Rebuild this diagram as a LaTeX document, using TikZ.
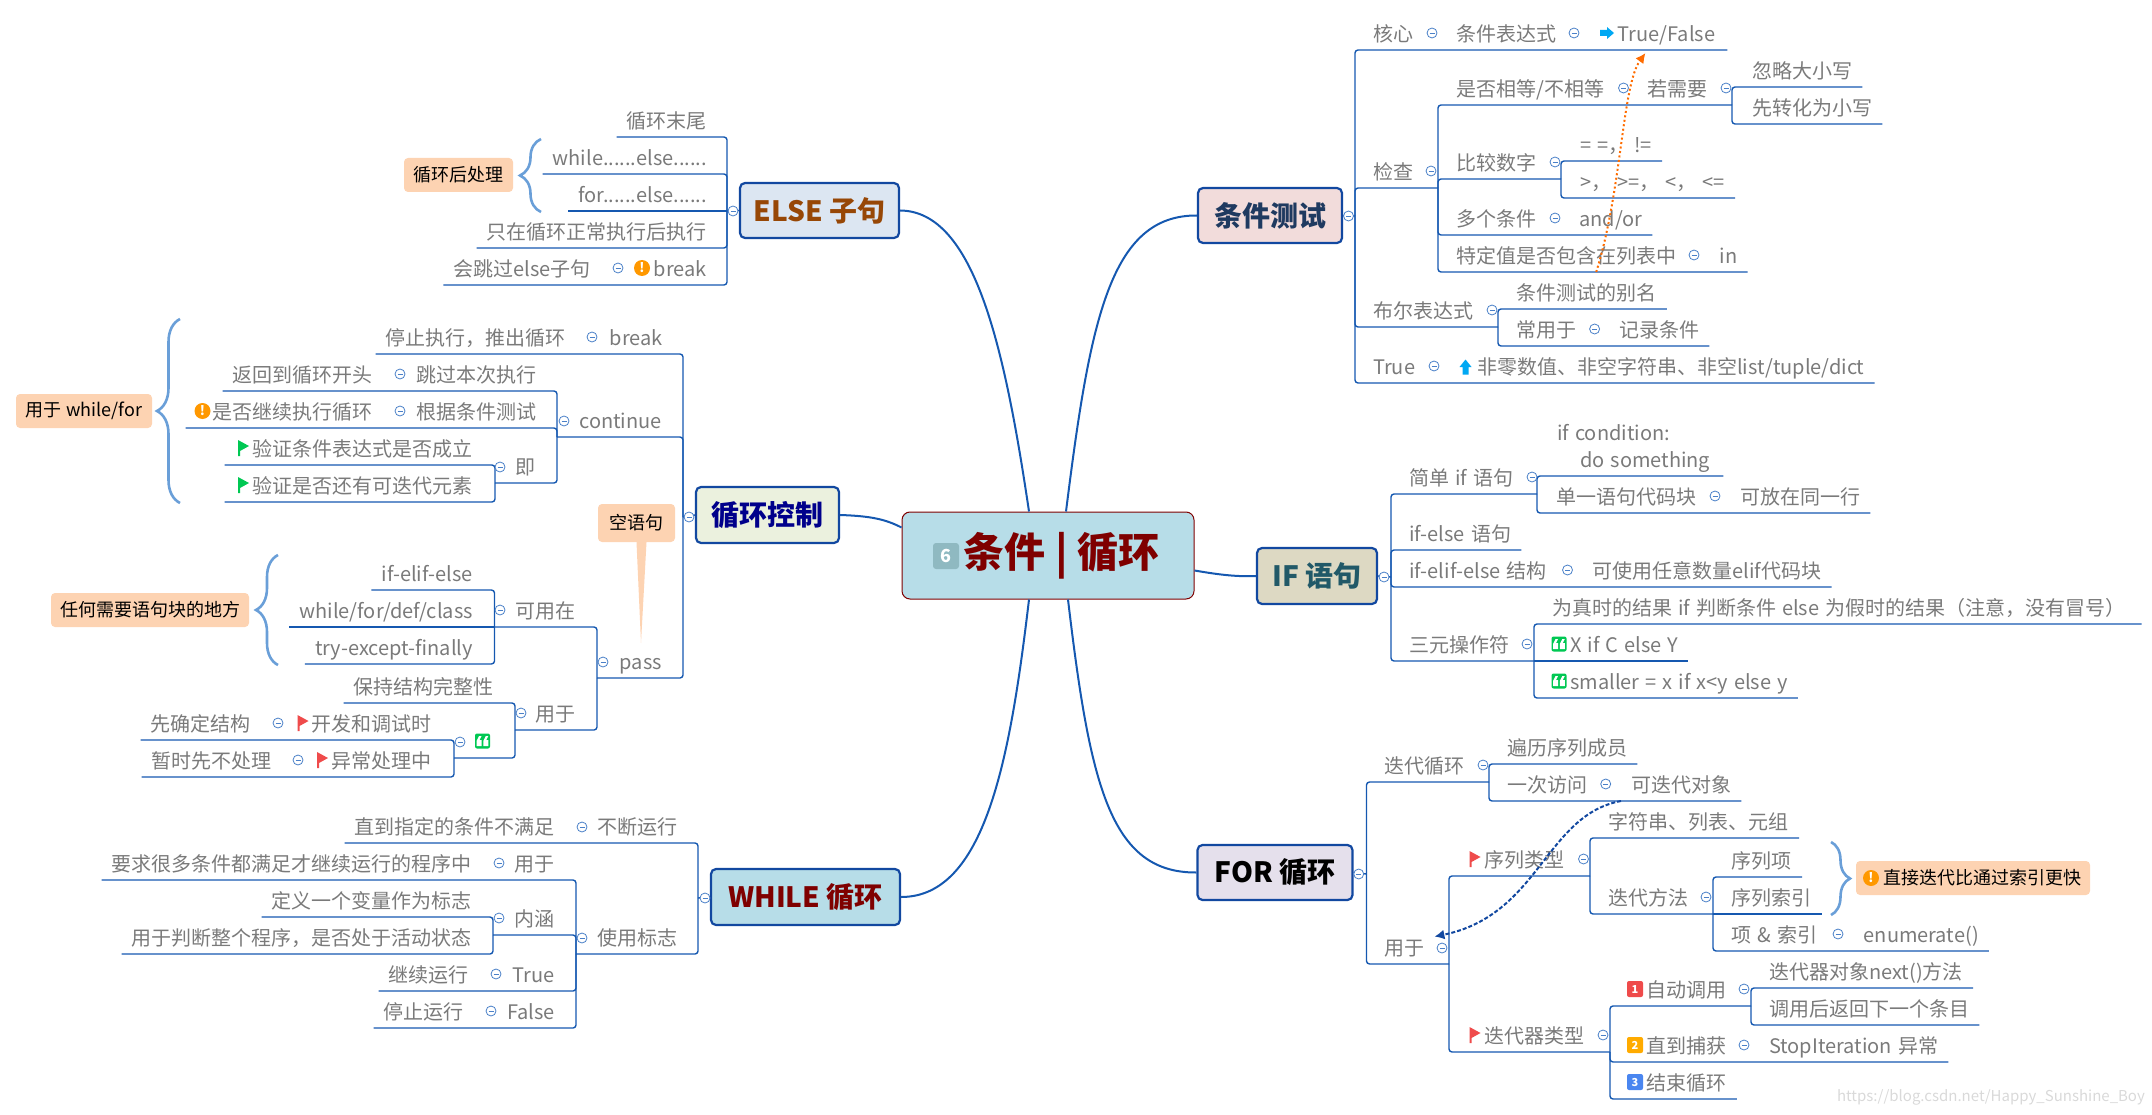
\documentclass[tikz,border=0pt]{standalone}
\usepackage{fontspec}
\setmainfont{Noto Sans CJK SC}
\usetikzlibrary{arrows.meta, positioning, decorations.pathreplacing}
\definecolor{linkblue}{HTML}{1558B0}
\definecolor{boxblue}{HTML}{1248A0}
\definecolor{foldblue}{HTML}{4A80C8}
\definecolor{textgray}{HTML}{7A7A7A}
\definecolor{notefill}{HTML}{FDD3B2}
\definecolor{bracecol}{HTML}{6A9FD8}
\definecolor{rootfill}{HTML}{B7DDE8}
\definecolor{rootred}{HTML}{7F0000}
\definecolor{badgefill}{HTML}{8FB9C1}
\definecolor{flagred}{HTML}{EF4B4B}
\definecolor{flaggreen}{HTML}{00C853}
\definecolor{warnorange}{HTML}{FF9800}
\definecolor{arrowcyan}{HTML}{00A8F3}
\definecolor{elsefill}{HTML}{DCE6F2}
\definecolor{elsetext}{HTML}{974706}
\definecolor{ctrlfill}{HTML}{EBF1DE}
\definecolor{ctrltext}{HTML}{00008B}
\definecolor{condfill}{HTML}{F2DCDB}
\definecolor{condtext}{HTML}{1F3A60}
\definecolor{iffill}{HTML}{DDD9C3}
\definecolor{iftext}{HTML}{215968}
\definecolor{forfill}{HTML}{E5E0EC}
\definecolor{tagorange}{HTML}{FFAB00}
\definecolor{tagblue}{HTML}{4A86F0}
\newcommand{\topicfont}{\fontsize{20}{27}\selectfont\spaceskip=6pt\relax}
\tikzset{
    topic/.style={inner xsep=10pt, inner ysep=0pt, minimum height=34pt, text height=18pt, text depth=1pt, text=textgray, font=\topicfont},
    topicl/.style={topic, anchor=south east},
    topicr/.style={topic, anchor=south west},
    link/.style={line width=1.4pt, linkblue, rounded corners=3pt},
    trunk/.style={line width=2pt, linkblue},
    mainbox/.style={draw=boxblue, line width=2.2pt, rounded corners=5pt, inner sep=0pt, font=\fontsize{28}{30}\selectfont\bfseries},
    note/.style={fill=notefill, rounded corners=4pt, inner sep=0pt, text=black, font=\fontsize{18}{20}\selectfont},
    bracket/.style={bracecol, line width=2.6pt, decorate, decoration={brace, amplitude=#1}},
    fold/.style={circle, draw=foldblue, fill=white, line width=.8pt, inner sep=0pt, minimum size=10pt, path picture={\draw[foldblue, line width=.8pt] ([xshift=-2.5pt]path picture bounding box.center) -- ([xshift=2.5pt]path picture bounding box.center);}},
    warnmark/.style={circle, fill=warnorange, inner sep=0pt, minimum size=16pt, text=white, font=\fontsize{13}{13}\selectfont\bfseries},
    numtag/.style={rounded corners=2pt, inner sep=0pt, minimum size=16pt, text=white, font=\fontsize{11}{11}\selectfont\bfseries},
    pics/flagicon/.style={code={\fill[#1] (-5.5,-8) -- (5.5,-2) -- (-3.5,3) -- (-3.5,8) -- (-5.5,8) -- cycle;}},
    pics/arrowright/.style={code={\fill[arrowcyan] (-7,-3) -- (0,-3) -- (0,-6) -- (7,0) -- (0,6) -- (0,3) -- (-7,3) -- cycle;}},
    pics/arrowup/.style={code={\fill[arrowcyan] (-3,7.5) -- (-3,0) -- (-6,0) -- (0,-7.5) -- (6,0) -- (3,0) -- (3,7.5) -- cycle;}},
    pics/quoteicon/.style={code={\fill[flaggreen, rounded corners=2pt] (-7.5,-7.5) rectangle (7.5,7.5);
        \foreach \s in {-6,0.8} \fill[white] (\s,5) -- (\s,0) -- (\s+2.5,-5) -- (\s+5,-5) -- (\s+3,-1) -- (\s+5,-1) -- (\s+5,5) -- cycle;}},
}
\begin{document}
\begin{tikzpicture}[x=1pt, y=-1pt]
    \useasboundingbox (0,0) rectangle (2152,1115);

    \node[draw=rootred, fill=rootfill, line width=1pt, rounded corners=8pt, minimum width=292pt, minimum height=87pt, inner sep=0pt, text=rootred, font=\fontsize{41}{43}\selectfont\bfseries] (root) at (1048,555.5) {\hspace*{27pt}条件 | 循环};
    \node[fill=badgefill, rounded corners=3pt, minimum size=26pt, inner sep=0pt, text=white, font=\fontsize{18}{18}\selectfont\bfseries] (badgesix) at (946,556) {6};

    \node[mainbox, fill=elsefill, text=elsetext, minimum width=159pt, minimum height=55pt] (elsenode) at (819.5,210.5) {ELSE 子句};
    \node[mainbox, fill=ctrlfill, text=ctrltext, minimum width=143pt, minimum height=56pt] (ctrlnode) at (767.5,515) {循环控制};
    \node[mainbox, fill=rootfill, text=rootred, minimum width=189pt, minimum height=56pt] (whilenode) at (805.5,897) {WHILE 循环};
    \node[mainbox, fill=condfill, text=condtext, minimum width=144pt, minimum height=55pt] (condnode) at (1270,215.5) {条件测试};
    \node[mainbox, fill=iffill, text=iftext, minimum width=120pt, minimum height=56pt] (ifnode) at (1317,576) {IF 语句};
    \node[mainbox, fill=forfill, text=black, minimum width=155pt, minimum height=55pt] (fornode) at (1275,872.5) {FOR 循环};

    \draw[trunk] ([xshift=18pt]root.north) .. controls (1090,320) and (1110,215) .. (condnode.west);
    \draw[trunk] ([xshift=-19pt]root.north) .. controls (1005,350) and (975,211) .. (elsenode.east);
    \draw[trunk] ([yshift=28pt]root.west) .. controls (885,519) and (870,516) .. (ctrlnode.east);
    \draw[trunk] ([yshift=-15pt]root.east) .. controls (1215,574) and (1235,577) .. (ifnode.west);
    \draw[trunk] ([xshift=-19pt]root.south) .. controls (1010,760) and (985,897) .. (whilenode.east);
    \draw[trunk] ([xshift=20pt]root.south) .. controls (1090,785) and (1110,873) .. (fornode.west);

    \coordinate (elsebus) at (727,211);
    \node[topicl] (tailn) at (717,137) {循环末尾};
    \node[topicl] (whileelse) at (717,174) {while......else......};
    \node[topicl] (forelse) at (717,211) {for......else......};
    \node[topicl] (onlyok) at (717,248) {只在循环正常执行后执行};
    \node[topicl] (skipelse) at (601,285) {会跳过else子句};
    \node[topicl] (breakelse) at (717,285) {break};
    \node[warnmark] (warnelse) at (642,268) {!};
    \draw[link] (tailn.south west) -| (elsebus);
    \draw[link] (whileelse.south west) -| (elsebus);
    \draw[link] (forelse.south west) -- (elsebus);
    \draw[link] (onlyok.south west) -| (elsebus);
    \draw[link] (skipelse.south west) -- (breakelse.south east) -| (elsebus);
    \draw[link] (elsebus) -- (elsenode.west);
    \node[note, minimum width=109pt, minimum height=34pt] (elsenote) at (458.5,175) {循环后处理};
    \coordinate (elsetop) at (541,139);
    \coordinate (elsebot) at (541,212);
    \draw[bracket=21pt] (elsebot) -- (elsetop);

    \coordinate (ctrlbus) at (683,517);
    \coordinate (contbus) at (557,437);
    \coordinate (jibus) at (495,483);
    \coordinate (passbus) at (597,678);
    \coordinate (canbus) at (494.5,627);
    \coordinate (usebus) at (515,730);
    \coordinate (quotebus) at (454,758);
    \node[topicl] (stopn) at (576,354) {停止执行，推出循环};
    \node[topicl] (breakn) at (673,354) {break};
    \node[topicl] (contn) at (672,437) {continue};
    \node[topicl] (backn) at (383,391) {返回到循环开头};
    \node[topicl] (skipn) at (547,391) {跳过本次执行};
    \node[topicl] (whethern) at (383,428) {是否继续执行循环};
    \node[topicl] (bytest) at (547,428) {根据条件测试};
    \node[warnmark] (warnwhether) at (202.5,411) {!};
    \node[topicl] (jin) at (546,483) {即};
    \node[topicl] (verifya) at (483,465) {验证条件表达式是否成立};
    \node[topicl] (verifyb) at (483,502) {验证是否还有可迭代元素};
    \pic at (243.5,448) {flagicon=flaggreen};
    \pic at (243.5,485) {flagicon=flaggreen};
    \draw[link] (stopn.south west) -- (breakn.south east) -| (ctrlbus);
    \draw[link] (contbus) -- (contn.south east) -| (ctrlbus);
    \draw[link] (backn.south west) -- (skipn.south east) -| (contbus);
    \draw[link] ([xshift=-17pt]whethern.south west) -- (bytest.south east) -| (contbus);
    \draw[link] (jibus) -- (jin.south east) -| (contbus);
    \draw[link] ([xshift=-18pt]verifya.south west) -| (jibus);
    \draw[link] ([xshift=-18pt]verifyb.south west) -| (jibus);
    \draw[link] (ctrlbus) -- (ctrlnode.west);
    \node[note, minimum width=136pt, minimum height=34pt] (fornote) at (84,411) {用于 while/for};
    \coordinate (fortop) at (180,319);
    \coordinate (forbot) at (180,503);
    \draw[bracket=23pt] (forbot) -- (fortop);

    \node[topicl] (passn) at (672,678) {pass};
    \node[topicl] (canuse) at (586,627) {可用在};
    \node[topicl] (ifelif) at (483,590) {if-elif-else};
    \node[topicl] (whilefor) at (483,627) {while/for/def/class};
    \node[topicl] (tryexc) at (483,664) {try-except-finally};
    \node[topicl] (usen) at (586,730) {用于};
    \node[topicl] (keepn) at (504,703) {保持结构完整性};
    \pic at (482.5,741) {quoteicon};
    \node[topicl] (firstn) at (261,740) {先确定结构};
    \node[topicl] (devn) at (442,740) {开发和调试时};
    \node[topicl] (laterfix) at (282,777) {暂时先不处理};
    \node[topicl] (excn) at (442,777) {异常处理中};
    \pic at (303,723) {flagicon=flagred};
    \pic at (322.5,760) {flagicon=flagred};
    \draw[link] (passbus) -- (passn.south east) -| (ctrlbus);
    \draw[link] (canbus) -- (canuse.south east) -| (passbus);
    \draw[link] (ifelif.south west) -| (canbus);
    \draw[link] (whilefor.south west) -- (canbus);
    \draw[link] (tryexc.south west) -| (canbus);
    \draw[link] (usebus) -- (usen.south east) -| (passbus);
    \draw[link] (keepn.south west) -| (usebus);
    \draw[link] (quotebus) -| (usebus);
    \draw[link] (firstn.south west) -- (devn.south east) -| (quotebus);
    \draw[link] (laterfix.south west) -- (excn.south east) -| (quotebus);
    \node[note, minimum width=198pt, minimum height=34pt] (anynote) at (150,610) {任何需要语句块的地方};
    \coordinate (anytop) at (278,555);
    \coordinate (anybot) at (278,665);
    \draw[bracket=22pt] (anybot) -- (anytop);
    \node[note, minimum width=77pt, minimum height=38pt] (emptynote) at (636.5,523) {空语句};
    \coordinate (emptytip) at (641,643);
    \fill[notefill] (emptynote.south) -- (emptytip) -- ([xshift=10pt]emptynote.south) -- cycle;

    \coordinate (whilebus) at (698,898);
    \coordinate (flagbus) at (576,954);
    \coordinate (innerbus) at (493,935);
    \node[topicl] (untiln) at (565,843) {直到指定的条件不满足};
    \node[topicl] (keeprun) at (688,843) {不断运行};
    \node[topicl] (useflag) at (688,954) {使用标志};
    \node[topicl] (reqn) at (482,880) {要求很多条件都满足才继续运行的程序中};
    \node[topicl] (forprog) at (565,880) {用于};
    \node[topicl] (innern) at (565,935) {内涵};
    \node[topicl] (defvar) at (482,917) {定义一个变量作为标志};
    \node[topicl] (judgen) at (482,954) {用于判断整个程序，是否处于活动状态};
    \node[topicl] (gorun) at (479,991) {继续运行};
    \node[topicl] (truerun) at (565,991) {True};
    \node[topicl] (stoprun) at (474,1028) {停止运行};
    \node[topicl] (falserun) at (565,1028) {False};
    \draw[link] (untiln.south west) -- (keeprun.south east) -| (whilebus);
    \draw[link] (flagbus) -- (useflag.south east) -| (whilebus);
    \draw[link] (reqn.south west) -- (forprog.south east) -| (flagbus);
    \draw[link] (innerbus) -- (innern.south east) -| (flagbus);
    \draw[link] (defvar.south west) -| (innerbus);
    \draw[link] (judgen.south west) -| (innerbus);
    \draw[link] (gorun.south west) -- (truerun.south east) -| (flagbus);
    \draw[link] (stoprun.south west) -- (falserun.south east) -| (flagbus);
    \draw[link] (whilebus) -- (whilenode.west);

    \coordinate (condbus) at (1355,216);
    \coordinate (checkbus) at (1438,188);
    \coordinate (needbus) at (1732,105);
    \coordinate (cmpbus) at (1561,179);
    \coordinate (boolbus) at (1498,327);
    \node[topicr] (coren) at (1363,50) {核心};
    \node[topicr] (exprn) at (1446,50) {条件表达式};
    \node[topicr] (truefalse) at (1607.5,50) {True/False};
    \pic at (1607,33) {arrowright};
    \node[topicr] (checkn) at (1363,188) {检查};
    \node[topicr] (samen) at (1446,105) {是否相等/不相等};
    \node[topicr] (ifneed) at (1637,105) {若需要};
    \node[topicr] (ignoren) at (1742,87) {忽略大小写};
    \node[topicr] (lowern) at (1742,124) {先转化为小写};
    \node[topicr] (comparen) at (1446,179) {比较数字};
    \node[topicr] (eqsn) at (1570,161) {= =， !=};
    \node[topicr] (gtsn) at (1570,198) {>， >=， <， <=};
    \node[topicr] (multin) at (1446,235) {多个条件};
    \node[topicr] (andor) at (1569,235) {and/or};
    \node[topicr] (containn) at (1446,272) {特定值是否包含在列表中};
    \node[topicr] (inlist) at (1709.5,272) {in};
    \node[topicr] (booln) at (1363,327) {布尔表达式};
    \node[topicr] (aliasn) at (1506.5,309) {条件测试的别名};
    \node[topicr] (oftenn) at (1506.5,346) {常用于};
    \node[topicr] (recordn) at (1609,346) {记录条件};
    \node[topicr] (truen) at (1363,383) {True};
    \node[topicr] (nonzero) at (1467,383) {非零数值、非空字符串、非空list/tuple/dict};
    \pic at (1465.5,367) {arrowup};
    \draw[link] (condbus) |- (coren.south west) -- ([xshift=2pt]truefalse.south east);
    \draw[link] (condbus) |- (checkbus);
    \draw[link] (checkbus) |- (samen.south west) -- (needbus);
    \draw[link] (needbus) |- (ignoren.south east);
    \draw[link] (needbus) |- (lowern.south east);
    \draw[link] (checkbus) |- (cmpbus);
    \draw[link] (cmpbus) |- (eqsn.south east);
    \draw[link] (cmpbus) |- (gtsn.south east);
    \draw[link] (checkbus) |- (multin.south west) -- (andor.south east);
    \draw[link] (checkbus) |- (containn.south west) -- (inlist.south east);
    \draw[link] (condbus) |- (booln.south west) -- (boolbus);
    \draw[link] (boolbus) |- (aliasn.south east);
    \draw[link] (boolbus) |- (oftenn.south west) -- (recordn.south east);
    \draw[link] (condbus) |- (truen.south west) -- (nonzero.south east);
    \draw[link] (condbus) -- (condnode.east);

    \coordinate (ifbus) at (1391,577);
    \coordinate (simbus) at (1537,494);
    \coordinate (terbus) at (1534,661);
    \node[topicr] (simplen) at (1399,494) {简单 if 语句};
    \node[topicr, align=left, text height=40pt, text depth=8.5pt] (ifcode) at (1547,476) {if condition:\\\hspace*{23pt}do something};
    \node[topicr] (singlen) at (1546.5,513) {单一语句代码块};
    \node[topicr] (samelin) at (1730,513) {可放在同一行};
    \node[topicr] (ifelsen) at (1399,550) {if-else 语句};
    \node[topicr] (elifn) at (1399,587) {if-elif-else 结构};
    \node[topicr] (anyelif) at (1582.5,587) {可使用任意数量elif代码块};
    \node[topicr] (ternary) at (1399,661) {三元操作符};
    \node[topicr] (ternote) at (1542,624) {为真时的结果 if 判断条件 else 为假时的结果（注意，没有冒号）};
    \node[topicr] (xifc) at (1560,661) {X if C else Y};
    \node[topicr] (smallern) at (1560,698) {smaller = x if x<y else y};
    \pic at (1559,644) {quoteicon};
    \pic at (1559,681) {quoteicon};
    \draw[link] (ifbus) |- (simplen.south west) -- (simbus);
    \draw[link] (simbus) |- ([xshift=3pt]ifcode.south east);
    \draw[link] (simbus) |- (singlen.south west) -- (samelin.south east);
    \draw[link] (ifbus) |- (ifelsen.south east);
    \draw[link] (ifbus) |- (elifn.south west) -- (anyelif.south east);
    \draw[link] (ifbus) |- (ternary.south west) -- (terbus);
    \draw[link] (terbus) |- ([xshift=6pt]ternote.south east);
    \draw[link] (terbus) -- (xifc.south east);
    \draw[link] (terbus) |- (smallern.south east);
    \draw[link] (ifbus) -- (ifnode.east);

    \coordinate (forbus) at (1366.5,874);
    \coordinate (iterbus) at (1489,782);
    \coordinate (usefbus) at (1449,964);
    \coordinate (seqbus) at (1590,876);
    \coordinate (waybus) at (1713,914);
    \coordinate (itbus) at (1610,1052);
    \coordinate (autobus) at (1751,1006);
    \node[topicr] (itern) at (1374,782) {迭代循环};
    \node[topicr] (traversn) at (1497,764) {遍历序列成员};
    \node[topicr] (oncen) at (1497,801) {一次访问};
    \node[topicr] (iterable) at (1621,801) {可迭代对象};
    \node[topicr] (usefor) at (1374,964) {用于};
    \node[topicr] (seqtype) at (1474.5,876) {序列类型};
    \node[topicr] (strsn) at (1598.6,838) {字符串、列表、元组};
    \node[topicr] (wayn) at (1598.6,914) {迭代方法};
    \node[topicr] (seqitem) at (1721.6,877) {序列项};
    \node[topicr] (seqidx) at (1721.6,914) {序列索引};
    \node[topicr] (itemidx) at (1721.6,951) {项 \& 索引};
    \node[topicr] (enumer) at (1853.5,951) {enumerate()};
    \node[topicr] (ittype) at (1474.5,1052) {迭代器类型};
    \node[topicr] (auton) at (1636.4,1006) {自动调用};
    \node[topicr] (nextm) at (1759,988) {迭代器对象next()方法};
    \node[topicr] (callb) at (1759,1025) {调用后返回下一个条目};
    \node[topicr] (catchn) at (1636.4,1062) {直到捕获};
    \node[topicr] (stopit) at (1759,1062) {StopIteration 异常};
    \node[topicr] (endn) at (1636.4,1099) {结束循环};
    \node[numtag, fill=flagred] (tagone) at (1635,989) {1};
    \node[numtag, fill=tagorange] (tagtwo) at (1635,1045) {2};
    \node[numtag, fill=tagblue] (tagthree) at (1635,1082) {3};
    \pic at (1475,859) {flagicon=flagred};
    \pic at (1475,1035) {flagicon=flagred};
    \draw[link] (forbus) |- (itern.south west) -- (iterbus);
    \draw[link] (iterbus) |- (traversn.south east);
    \draw[link] (iterbus) |- (oncen.south west) -- (iterable.south east);
    \draw[link] (forbus) |- (usefor.south west) -- (usefbus);
    \draw[link] (usefbus) |- (seqtype.south west) -- (seqbus);
    \draw[link] (seqbus) |- (strsn.south east);
    \draw[link] (seqbus) |- (wayn.south west) -- (waybus);
    \draw[link] (waybus) |- (seqitem.south east);
    \draw[link] (waybus) -- (seqidx.south east);
    \draw[link] (waybus) |- (itemidx.south west) -- (enumer.south east);
    \draw[link] (usefbus) |- (ittype.south west) -- (itbus);
    \draw[link] (itbus) |- (auton.south west) -- (autobus);
    \draw[link] (autobus) |- (nextm.south east);
    \draw[link] (autobus) |- (callb.south east);
    \draw[link] (itbus) |- (catchn.south west) -- (stopit.south east);
    \draw[link] (itbus) |- (endn.south east);
    \draw[link] (forbus) -- (fornode.east);
    \node[note, minimum width=234pt, minimum height=34pt] (fastnote) at (1973,878) {\hspace*{19pt}直接迭代比通过索引更快};
    \node[warnmark] (warnfast) at (1871,878) {!};
    \coordinate (fasttop) at (1831,842);
    \coordinate (fastbot) at (1831,915);
    \draw[bracket=19pt] (fasttop) -- (fastbot);

    \foreach \i/\x/\y in {1/618/268, 2/733/211, 3/689/517, 4/592/337, 5/564/421, 6/400/374, 7/400/411, 8/500/467, 9/603/662, 10/500/610, 11/521/713, 12/460/742, 13/278/723, 14/298/760, 15/705/898, 16/582/827, 17/582/938, 18/499/863, 19/499/918, 20/496/974, 21/491/1011, 22/1348.5/216, 23/1432/33, 24/1574/33, 25/1431/171, 26/1623.5/88, 27/1726/88, 28/1555/162, 29/1555/218, 30/1694/255, 31/1492/310, 32/1594.6/329, 33/1434/366, 34/1384/577, 35/1532/477, 36/1715/496, 37/1567.5/570, 38/1527/644, 39/1358.7/874, 40/1483/765, 41/1605.7/784, 42/1442/948, 43/1583.5/859, 44/1706/897, 45/1838/934, 46/1603/1035, 47/1744/989, 48/1744/1045}
        \node[fold] (fold\i) at (\x,\y) {};

    \draw[line width=2pt, orange!85!red, dash pattern=on 2pt off 2.5pt, -{Latex[length=10pt,width=10pt]}] ([xshift=30pt]containn.south) .. controls (1622,190) and (1622,85) .. ([xshift=38pt,yshift=-3pt]truefalse.south west);
    \draw[line width=2pt, boxblue, dash pattern=on 4pt off 2pt, -{Latex[length=10pt,width=10pt]}] (iterable.south west) .. controls (1545,815) and (1540,915) .. ([yshift=-7pt]usefor.north east);

    \node[anchor=east, inner sep=0pt, text=gray!30, font=\fontsize{15}{15}\selectfont] (mark) at (2145,1097) {https://blog.csdn.net/Happy\_Sunshine\_Boy};
\end{tikzpicture}
\end{document}
